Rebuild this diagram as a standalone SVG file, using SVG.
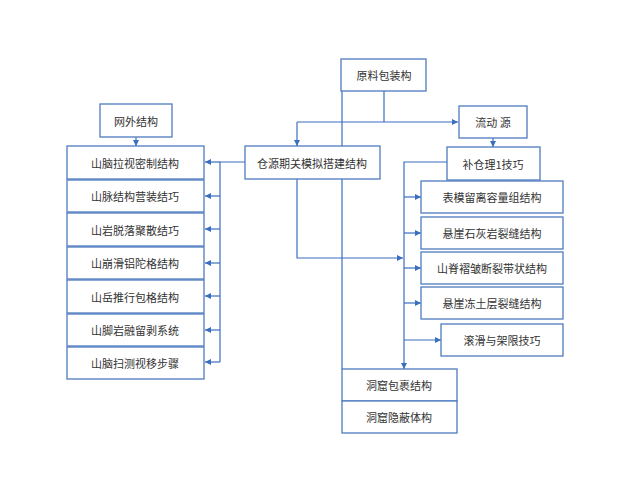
<svg xmlns="http://www.w3.org/2000/svg" width="640" height="480" viewBox="0 0 640 480">
<defs>
<marker id="a" viewBox="0 0 6 6" refX="6" refY="3" markerWidth="5" markerHeight="5" orient="auto"><path d="M0,0L6,3L0,6z" fill="#3a6fc0"/></marker>
<style>
rect{fill:#fff;stroke:#4f7cbf;stroke-width:1.3}
text{font-family:"Noto Sans CJK SC","Liberation Serif",serif;font-size:11px;fill:#333;text-anchor:middle;dominant-baseline:central}
.c path{fill:none;stroke:#3a6fc0;stroke-width:1.2}
</style>
</defs>
<rect x="0" y="0" width="640" height="480" style="stroke:none"/>
<g class="c">
<path d="M136,137V146" marker-end="url(#a)"/>
<path d="M245,162H220V362"/>
<path d="M220,162H205" marker-end="url(#a)"/>
<path d="M220,196H205" marker-end="url(#a)"/>
<path d="M220,229H205" marker-end="url(#a)"/>
<path d="M220,263H205" marker-end="url(#a)"/>
<path d="M220,296H205" marker-end="url(#a)"/>
<path d="M220,330H205" marker-end="url(#a)"/>
<path d="M220,362H205" marker-end="url(#a)"/>
<path d="M342,91V369"/>
<path d="M384,91V122"/>
<path d="M297,122H458" marker-end="url(#a)"/>
<path d="M297,122V146" marker-end="url(#a)"/>
<path d="M493,138V147" marker-end="url(#a)"/>
<path d="M297,179V258H403" marker-end="url(#a)"/>
<path d="M447,162H404V369" marker-end="url(#a)"/>
<path d="M404,197H421" marker-end="url(#a)"/>
<path d="M404,233H421" marker-end="url(#a)"/>
<path d="M404,268H421" marker-end="url(#a)"/>
<path d="M404,303H421" marker-end="url(#a)"/>
<path d="M404,340H441" marker-end="url(#a)"/>
</g>
<g id="n0"><rect x="100" y="104" width="72" height="33"/><text x="136" y="121">网外结构</text></g>
<g id="n1"><rect x="67" y="146" width="137" height="33"/><text x="135" y="163">山脑拉视密制结构</text></g>
<g id="n2"><rect x="67" y="180" width="137" height="32"/><text x="135" y="196">山脉结构营装结巧</text></g>
<g id="n3"><rect x="67" y="213" width="137" height="33"/><text x="135" y="230">山岩脱落聚散结巧</text></g>
<g id="n4"><rect x="67" y="247" width="137" height="32"/><text x="135" y="263">山崩滑铝陀格结构</text></g>
<g id="n5"><rect x="67" y="280" width="137" height="33"/><text x="135" y="297">山岳推行包格结构</text></g>
<g id="n6"><rect x="67" y="314" width="137" height="32"/><text x="135" y="330">山脚岩融留剥系统</text></g>
<g id="n7"><rect x="67" y="347" width="137" height="32"/><text x="135" y="363">山脑扫测视移步骤</text></g>
<g id="n8"><rect x="341" y="59" width="85" height="32"/><text x="384" y="75">原料包装构</text></g>
<g id="n9"><rect x="245" y="146" width="135" height="33"/><text x="312" y="163">仓源期关模拟搭建结构</text></g>
<g id="n10"><rect x="459" y="106" width="68" height="32"/><text x="493" y="122">流动 源</text></g>
<g id="n11"><rect x="447" y="147" width="93" height="33"/><text x="493" y="164">补仓理1技巧</text></g>
<g id="n12"><rect x="421" y="181" width="142" height="32"/><text x="492" y="197">表模留离容量组结构</text></g>
<g id="n13"><rect x="421" y="217" width="142" height="32"/><text x="492" y="233">悬崖石灰岩裂缝结构</text></g>
<g id="n14"><rect x="421" y="252" width="142" height="32"/><text x="492" y="268">山脊褶皱断裂带状结构</text></g>
<g id="n15"><rect x="421" y="287" width="142" height="32"/><text x="492" y="303">悬崖冻土层裂缝结构</text></g>
<g id="n16"><rect x="441" y="324" width="122" height="32"/><text x="502" y="340">滚滑与架限技巧</text></g>
<g id="n17"><rect x="342" y="369" width="115" height="32"/><text x="399" y="385">洞窟包裹结构</text></g>
<g id="n18"><rect x="342" y="401" width="115" height="32"/><text x="399" y="417">洞窟隐蔽体构</text></g>
</svg>
